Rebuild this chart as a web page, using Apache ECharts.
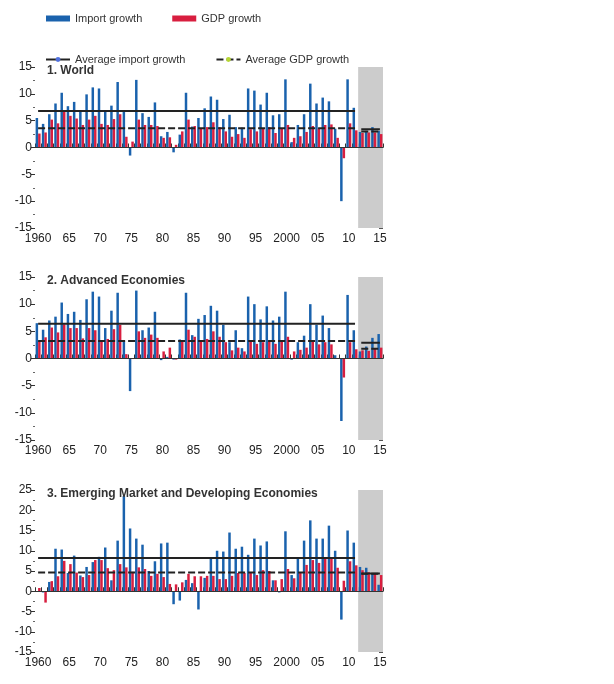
<!DOCTYPE html>
<html><head><meta charset="utf-8">
<script src="https://cdn.jsdelivr.net/npm/echarts@6/dist/echarts.min.js"></script>
<style>html,body{margin:0;background:#fff}#c{width:614px;height:684px}</style>
</head><body><div id="c"></div>
<script>
const years = [];
for (let y = 1960; y <= 2015; y++) years.push(String(y));

const worldImport = [5.5,4.4,6.2,8.2,10.2,7.7,8.5,6.9,9.9,11.2,11.0,6.9,7.8,12.2,6.8,-1.5,12.6,6.4,5.7,8.4,2.1,2.9,-0.9,2.4,10.2,3.9,5.5,7.3,9.5,8.9,5.3,6.1,3.8,3.7,11.0,10.6,8.0,10.2,6.0,6.2,12.7,1.0,4.2,6.2,11.9,8.2,9.3,8.6,3.5,-10.0,12.7,7.4,2.9,3.1,3.8,3.1];
const worldGdp = [2.6,2.8,5.2,4.5,6.7,5.9,5.4,4.2,5.2,5.9,4.4,4.2,5.3,6.2,2.0,1.1,5.2,4.2,4.2,4.0,1.8,1.9,0.5,3.0,5.2,4.0,3.6,3.8,4.7,3.8,3.0,2.0,2.5,1.8,3.4,3.0,3.5,3.8,2.7,3.6,4.2,1.8,2.1,2.9,4.0,3.6,4.2,4.3,1.8,-2.0,4.5,3.2,2.7,2.8,2.8,2.5];
const advImport = [6.5,5.3,7.0,7.7,10.3,8.2,8.6,7.1,10.9,12.3,11.4,5.6,8.8,12.1,3.2,-6.0,12.5,5.2,5.7,8.6,-0.3,0.3,-0.2,3.5,12.1,4.3,7.3,8.0,9.7,8.8,6.2,3.0,5.2,1.9,11.4,10.0,7.2,9.6,7.0,7.7,12.3,-0.2,3.0,4.2,10.0,6.2,7.9,5.6,0.6,-11.5,11.7,5.2,1.3,2.2,3.8,4.5];
const advGdp = [3.2,3.9,5.7,4.8,6.3,5.6,5.6,3.7,5.6,5.2,3.3,3.6,5.4,6.2,0.8,-0.1,5.0,3.8,4.4,3.8,1.3,2.0,-0.2,3.2,5.3,4.0,3.2,3.6,5.0,4.0,3.0,1.5,2.0,1.3,3.1,2.7,3.0,3.3,2.7,3.2,4.0,1.3,1.6,2.0,3.1,2.6,3.0,2.6,0.1,-3.5,3.0,1.7,1.5,1.4,1.8,2.0];
const emImport = [0,-0.3,2.3,10.5,10.3,4.5,8.8,3.9,6.0,7.2,8.5,10.8,2.7,12.5,23.5,15.5,13.0,11.5,5.0,7.4,11.8,12.0,-3.2,-2.3,2.8,2.0,-4.5,3.3,8.0,10.0,9.8,14.5,10.5,11.0,9.0,13.0,11.3,12.3,2.7,-0.3,14.8,4.0,8.0,12.5,17.5,13.0,13.0,16.2,10.0,-7.0,15.0,12.0,6.0,5.8,4.5,1.6];
const emGdp = [0.8,-2.8,2.5,3.7,7.5,6.7,4.6,3.5,4.0,7.7,7.7,5.7,5.2,6.7,5.9,4.8,5.9,5.5,3.8,4.3,3.5,1.8,1.7,2.2,4.3,3.7,3.7,3.8,3.8,3.0,3.0,3.8,4.5,4.5,4.5,4.0,5.2,5.0,2.7,3.0,5.5,3.2,4.5,6.5,7.7,7.0,8.0,8.3,5.8,2.6,7.4,6.4,5.2,4.7,4.5,4.0];

// [import avg 1960-2011, gdp avg 1960-2011, import avg 2012-15, gdp avg 2012-15]
const worldAvg = [6.8, 3.6, 3.4, 3.0];
const advAvg = [6.4, 3.2, 2.9, 1.8];
const emAvg = [8.2, 4.6, 4.4, 4.3];

const panelTitles = ['1. World', '2. Advanced Economies', '3. Emerging Market and Developing Economies'];
const panelRanges = [[-15, 15], [-15, 15], [-15, 25]];
const panelTops = [67, 277, 490];
const panelHeights = [161, 163, 162];

const BLUE = '#1a62ad', RED = '#d81e3f';
const FONT = "'Liberation Sans Narrow','Liberation Sans',Arial,sans-serif";
const histEnd = years.indexOf('2011');
const fcStart = years.indexOf('2012');

function avgLine(v, from, to) {
  return years.map((_, i) => (i >= from && i <= to ? v : null));
}

const panels = [
  [worldImport, worldGdp, worldAvg],
  [advImport, advGdp, advAvg],
  [emImport, emGdp, emAvg],
];

const grid = [], xAxis = [], yAxis = [], series = [], title = [];
panels.forEach(([imp, gdp, avg], p) => {
  const [mn, mx] = panelRanges[p];
  grid.push({ left: 35, right: 231, top: panelTops[p], height: panelHeights[p] });
  xAxis.push({
    type: 'category', gridIndex: p, data: years, boundaryGap: true,
    axisLine: { lineStyle: { color: '#333', width: 1 } },
    axisTick: { show: true, interval: 0, inside: true, length: 4, lineStyle: { color: '#333' } },
    axisLabel: {
      interval: 0, color: '#222', fontFamily: FONT, fontSize: 12, margin: 5,
      formatter: (v) => {
        const y = Number(v);
        if (y % 5 !== 0) return '';
        if (y === 1960 || y === 2000) return v;
        return v.slice(2);
      },
    },
  });
  const yBase = {
    type: 'value', gridIndex: p, min: mn, max: mx, interval: 5,
    splitLine: { show: false },
    axisLine: { show: false },
    minorTick: { show: true, splitNumber: 2, length: 2, lineStyle: { color: '#666' } },
  };
  yAxis.push(Object.assign({}, yBase, {
    position: 'left',
    axisTick: { show: true, length: 4, lineStyle: { color: '#333' } },
    axisLabel: { color: '#222', fontFamily: FONT, fontSize: 12, margin: 3 },
  }));
  yAxis.push(Object.assign({}, yBase, {
    position: 'right',
    axisTick: { show: true, inside: true, length: 4, lineStyle: { color: '#555' } },
    axisLabel: { show: false },
  }));
  title.push({
    text: panelTitles[p], left: 42, top: panelTops[p] - 7,
    textStyle: { fontFamily: FONT, fontSize: 12, fontWeight: 'bold', color: '#333' },
  });
  const xi = p, yi = p * 2;
  series.push({
    type: 'bar', name: 'Import growth', xAxisIndex: xi, yAxisIndex: yi, data: imp,
    itemStyle: { color: BLUE }, barGap: '0%', barCategoryGap: '20%', z: 3,
    markArea: {
      silent: true, itemStyle: { color: '#cccccc' },
      data: [[{ xAxis: '2012', x: null }, { xAxis: '2015' }]],
    },
    markLine: {
      silent: true, symbol: 'none', label: { show: false },
      lineStyle: { color: '#333', type: 'solid', width: 1.2 },
      data: [{ yAxis: 0 }],
    },
  });
  series.push({
    type: 'bar', name: 'GDP growth', xAxisIndex: xi, yAxisIndex: yi, data: gdp,
    itemStyle: { color: RED }, z: 3,
  });
  const lineCommon = { type: 'line', xAxisIndex: xi, yAxisIndex: yi, symbol: 'none', z: 5, silent: true };
  series.push(Object.assign({}, lineCommon, { name: 'Average import growth', data: avgLine(avg[0], 0, histEnd), lineStyle: { color: '#222', width: 2 } }));
  series.push(Object.assign({}, lineCommon, { name: 'Average GDP growth', data: avgLine(avg[1], 0, histEnd), lineStyle: { color: '#222', width: 2, type: [7, 3] } }));
  series.push(Object.assign({}, lineCommon, { name: 'Average import growth', data: avgLine(avg[2], fcStart, years.length - 1), lineStyle: { color: '#222', width: 2 } }));
  series.push(Object.assign({}, lineCommon, { name: 'Average GDP growth', data: avgLine(avg[3], fcStart, years.length - 1), lineStyle: { color: '#222', width: 2, type: [7, 3] } }));
});

const chart = echarts.init(document.getElementById('c'), null, { renderer: 'canvas' });
chart.setOption({
  animation: false,
  backgroundColor: '#fff',
  title,
  legend: {
    left: 40, top: 8, width: 330, itemGap: 30, orient: 'horizontal',
    itemWidth: 24, itemHeight: 6,
    textStyle: { fontFamily: FONT, fontSize: 11, color: '#333' },
    data: [
      { name: 'Import growth', icon: 'rect', itemStyle: { color: BLUE } },
      { name: 'GDP growth', icon: 'rect', itemStyle: { color: RED } },
      { name: 'Average import growth' },
      { name: 'Average GDP growth' },
    ],
  },
  grid, xAxis, yAxis, series,
});
</script></body></html>
